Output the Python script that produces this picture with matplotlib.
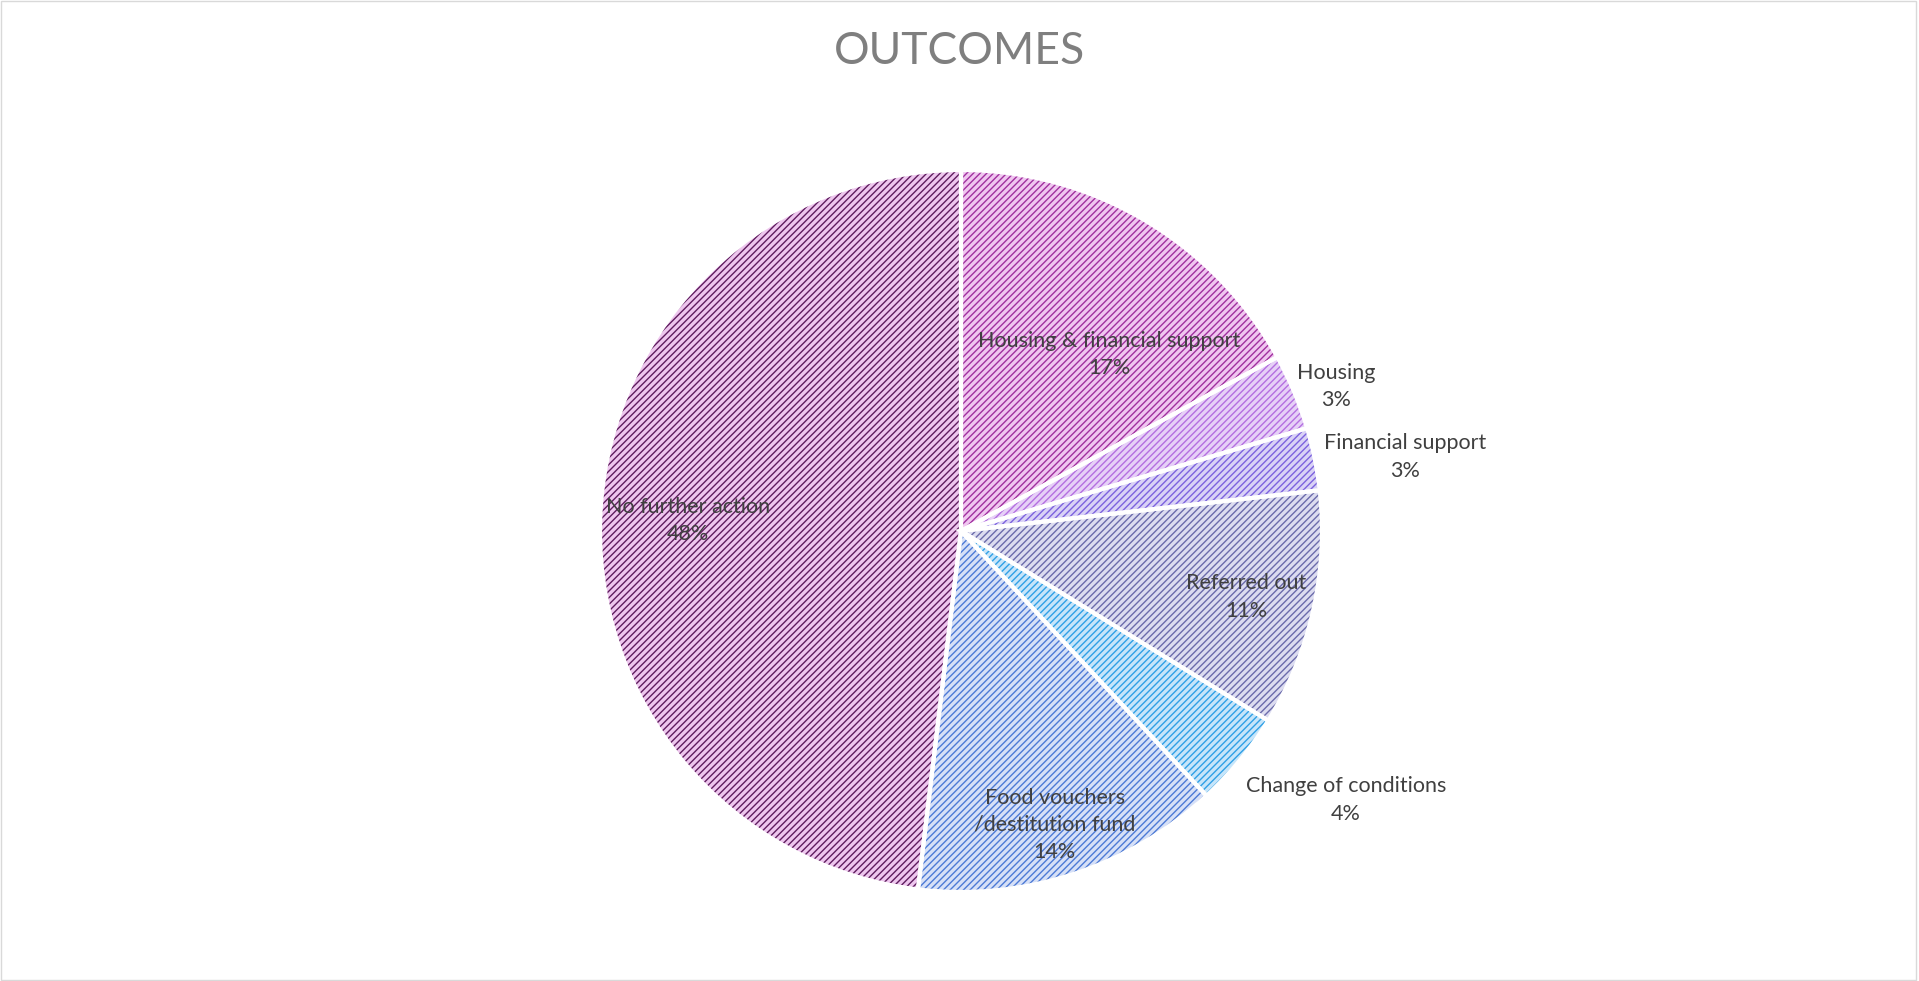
import matplotlib.pyplot as plt
from matplotlib.patches import Rectangle

plt.rcParams["font.family"] = ["Lato", "DejaVu Sans"]
plt.rcParams["hatch.linewidth"] = 1.0

TITLE = "OUTCOMES"
categories = [
    "Housing & financial support",
    "Housing",
    "Financial support",
    "Referred out",
    "Change of conditions",
    "Food vouchers\n/destitution fund",
    "No further action",
]
shares = [17.0, 3.4, 2.8, 10.6, 4.3, 13.8, 48.1]

face_colors = ["#f0c6f0", "#e6d0f7", "#d9d2f6", "#dcdcf0", "#c6e5fa", "#d6e0f7", "#eec6ee"]
hatch_colors = ["#a0309f", "#b46fe0", "#7c62de", "#6b6bab", "#2f9fe6", "#4c7ad6", "#5e1c5e"]
# label centres, in units of the pie radius
label_pos = [(0.41, 0.49), (1.04, 0.40), (1.23, 0.205), (0.79, -0.183),
             (1.066, -0.745), (0.26, -0.814), (-0.756, 0.03)]

W, H = 1919, 981
CX, CY, R = 961, 531, 361

fig = plt.figure(figsize=(W / 100, H / 100), dpi=100, facecolor="white")
ax = fig.add_axes([0, 0, 1, 1])

wedges, _ = ax.pie(shares, startangle=90, counterclock=False, radius=1,
                   colors=face_colors,
                   wedgeprops=dict(linewidth=0))
for w, hc in zip(wedges, hatch_colors):
    w.set_hatch("/////")
    w.set_edgecolor(hc)
    w.set_linewidth(0)

# white separators on top
ax.pie(shares, startangle=90, counterclock=False, radius=1,
       colors=["none"] * len(shares),
       wedgeprops=dict(linewidth=3.0, edgecolor="white", fill=False))

total = sum(shares)
for name, v, (lx, ly) in zip(categories, shares, label_pos):
    ax.text(lx, ly, f"{name}\n{round(v / total * 100)}%", ha="center", va="center",
            fontsize=15.5, color="#404040", linespacing=1.45)

ax.set_xlim(-CX / R, (W - CX) / R)
ax.set_ylim(-(H - CY) / R, CY / R)
ax.set_aspect("auto")
ax.axis("off")

fig.text(0.5, 1 - 51 / H, TITLE, ha="center", va="center", fontsize=32,
         color="#7f7f7f", family=["Lato", "DejaVu Sans"])

fig.patches.append(Rectangle((0.0005, 0.001), 0.998, 0.998, transform=fig.transFigure,
                             fill=False, edgecolor="#d9d9d9", linewidth=1))

fig.savefig("out.png", dpi=100, facecolor="white")
